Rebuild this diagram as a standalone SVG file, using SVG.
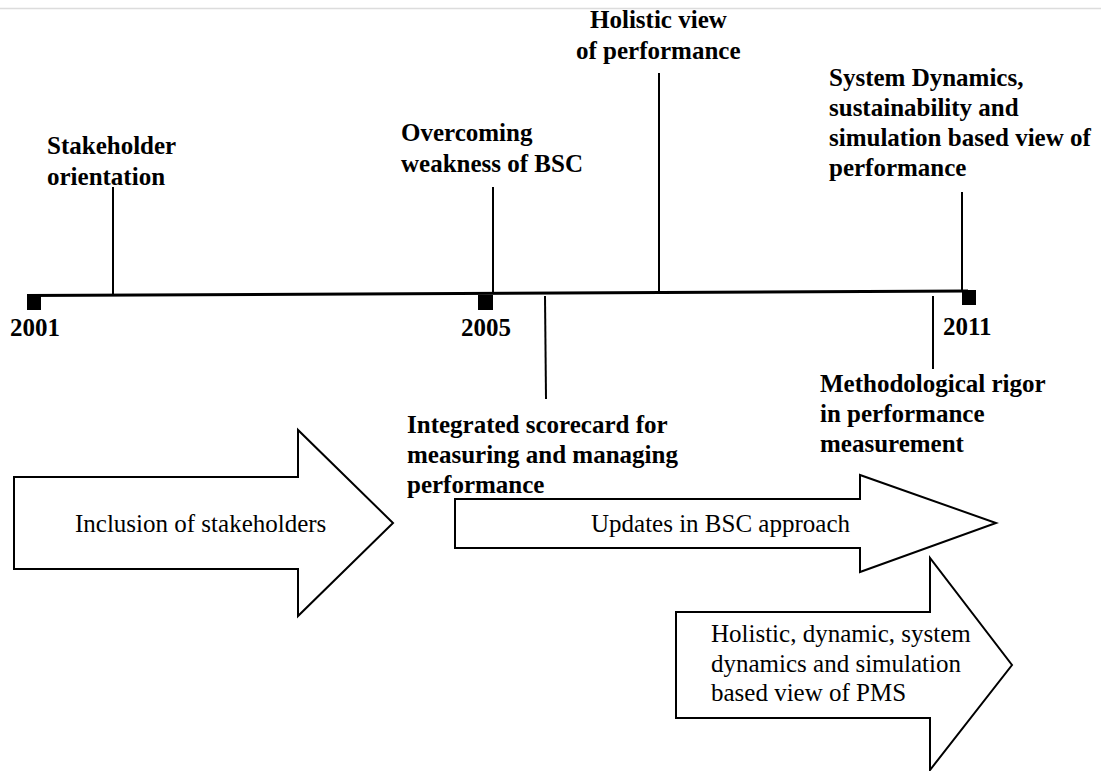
<svg xmlns="http://www.w3.org/2000/svg" width="1101" height="771" viewBox="0 0 1101 771">
<style>
.b{font-family:"Liberation Serif","Times New Roman",serif;font-weight:bold;font-size:25px;fill:#000}
.r{font-family:"Liberation Serif","Times New Roman",serif;font-size:25px;fill:#000}
.ln{stroke:#000;stroke-width:2;fill:none}
.ar{fill:#fff;stroke:#000;stroke-width:2;stroke-linejoin:miter}
</style>
<rect x="0" y="0" width="1101" height="771" fill="#fff"/>
<line x1="0" y1="8.5" x2="1101" y2="8.5" stroke="#dcdcdc" stroke-width="1.5"/>
<g id="timeline">
<line x1="27" y1="295.5" x2="968" y2="291" stroke="#000" stroke-width="3"/>
<rect x="27" y="295" width="14" height="15" fill="#000"/>
<rect x="478" y="295" width="15" height="15" fill="#000"/>
<rect x="962" y="290" width="14" height="15" fill="#000"/>
<text class="b" x="10" y="336">2001</text>
<text class="b" x="461" y="336">2005</text>
<text class="b" x="943" y="335">2011</text>
</g>
<g id="connectors">
<line class="ln" x1="113" y1="187" x2="113" y2="295"/>
<line class="ln" x1="493" y1="187" x2="493" y2="293"/>
<line class="ln" x1="659" y1="73" x2="659" y2="292"/>
<line class="ln" x1="962" y1="192" x2="962" y2="291"/>
<line class="ln" x1="545" y1="296" x2="546" y2="399"/>
<line class="ln" x1="933" y1="296" x2="933" y2="369"/>
</g>
<g id="stakeholder-orientation">
<text class="b" x="47" y="154">Stakeholder</text>
<text class="b" x="47" y="185">orientation</text>
</g>
<g id="overcoming-weakness">
<text class="b" x="401" y="141">Overcoming</text>
<text class="b" x="401" y="172">weakness of BSC</text>
</g>
<g id="holistic-view">
<text class="b" x="590" y="28">Holistic view</text>
<text class="b" x="576" y="59">of performance</text>
</g>
<g id="system-dynamics">
<text class="b" x="829" y="86">System Dynamics,</text>
<text class="b" x="829" y="116">sustainability and</text>
<text class="b" x="829" y="146">simulation based view of</text>
<text class="b" x="829" y="176">performance</text>
</g>
<g id="integrated-scorecard">
<text class="b" x="407" y="433">Integrated scorecard for</text>
<text class="b" x="407" y="463">measuring and managing</text>
<text class="b" x="407" y="493">performance</text>
</g>
<g id="methodological-rigor">
<text class="b" x="820" y="392">Methodological rigor</text>
<text class="b" x="820" y="422">in performance</text>
<text class="b" x="820" y="452">measurement</text>
</g>
<g id="arrow-inclusion">
<polygon class="ar" points="14,477 298,477 298,430 393,523 298,616 298,569 14,569"/>
<text class="r" x="75" y="532">Inclusion of stakeholders</text>
</g>
<g id="arrow-updates">
<polygon class="ar" points="455,499 860,499 860,475 996,523 860,572 860,548 455,548"/>
<text class="r" x="591" y="532">Updates in BSC approach</text>
</g>
<g id="arrow-holistic">
<polygon class="ar" points="676,612 930,612 930,558 1012,665 930,770 930,718 676,718"/>
<text class="r" x="711" y="642">Holistic, dynamic, system</text>
<text class="r" x="711" y="672">dynamics and simulation</text>
<text class="r" x="711" y="701">based view of PMS</text>
</g>
</svg>
